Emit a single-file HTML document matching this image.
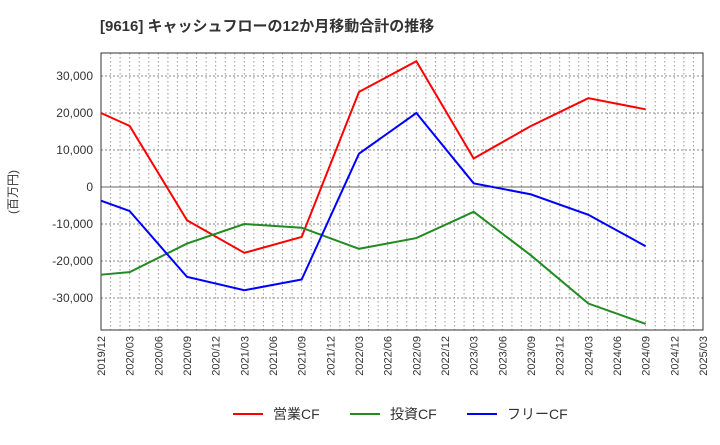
<!DOCTYPE html>
<html><head><meta charset="utf-8"><style>
body{margin:0;background:#fff;font-family:"Liberation Sans","Noto Sans CJK JP",sans-serif;}
</style></head><body>
<svg id="c" width="720" height="440" xmlns="http://www.w3.org/2000/svg">
<text x="100" y="31" font-size="15" font-weight="bold" fill="#333">[9616]  キャッシュフローの12か月移動合計の推移</text>
<text transform="translate(17,192) rotate(-90)" font-size="12" fill="#333" text-anchor="middle">(百万円)</text>
<g id="grid"></g><g id="axes"></g><g id="series"></g>
<g>
<line x1="233" y1="414" x2="263" y2="414" stroke="#f00" stroke-width="2"/><text x="273" y="419" font-size="14" fill="#333">営業CF</text>
<line x1="350" y1="414" x2="380" y2="414" stroke="#228b22" stroke-width="2"/><text x="390" y="419" font-size="14" fill="#333">投資CF</text>
<line x1="467" y1="414" x2="497" y2="414" stroke="#00f" stroke-width="2"/><text x="507" y="419" font-size="14" fill="#333">フリーCF</text>
</g>
</svg>
<script>
const xLabels=["2019/12","2020/03","2020/06","2020/09","2020/12","2021/03","2021/06","2021/09","2021/12","2022/03","2022/06","2022/09","2022/12","2023/03","2023/06","2023/09","2023/12","2024/03","2024/06","2024/09","2024/12","2025/03"];
const yTicks=[30000,20000,10000,0,-10000,-20000,-30000];
const pointIdx=[0,1,3,5,7,9,11,13,15,17,19];
const operatingCF=[20000,16500,-9000,-17800,-13500,25700,34000,7700,16500,24000,21000];
const investingCF=[-23700,-23000,-15300,-10000,-11000,-16700,-13800,-6700,-18500,-31500,-37000];
const freeCF=[-3700,-6500,-24300,-27900,-25000,9000,20000,1000,-2000,-7500,-16000];
const L=101,R=703,T=53,B=330;
const x=q=>L+q*(R-L)/(xLabels.length-1);
const y=v=>187-v*37/10000;
const ns="http://www.w3.org/2000/svg";
function mk(t,a,p){const e=document.createElementNS(ns,t);for(const k in a)e.setAttribute(k,a[k]);p.appendChild(e);return e;}
const g=document.getElementById('grid'),ax=document.getElementById('axes'),s=document.getElementById('series');
for(let m=1;m<63;m++){const xx=L+m*(R-L)/63;const l=mk('line',{x1:xx,x2:xx,y1:T,y2:B,stroke:'#999','stroke-dasharray':'1.5,2.5','stroke-width':1},g);

}
yTicks.forEach(v=>{const l=mk('line',{x1:L,x2:R,y1:y(v),y2:y(v),stroke:v===0?'#666':'#888','stroke-dasharray':v===0?'':'2,2','stroke-width':1},g);


const t=mk('text',{x:L-8,y:y(v)+4,'font-size':12,fill:'#333','text-anchor':'end'},ax);t.textContent=v.toLocaleString('en-US');

});
const fr=mk('rect',{x:L,y:T,width:R-L,height:B-T,fill:'none',stroke:'#333','stroke-width':1},ax);


xLabels.forEach((lb,i)=>{const t=mk('text',{transform:`translate(${x(i)+4},${B+6}) rotate(-90)`,'font-size':11,fill:'#333','text-anchor':'end'},ax);t.textContent=lb;

});
[[operatingCF,'#f00','operating-cf-line'],[investingCF,'#228b22','investing-cf-line'],[freeCF,'#00f','free-cf-line']].forEach(([d,c,n])=>{
const p=mk('polyline',{points:d.map((v,i)=>x(pointIdx[i])+','+y(v)).join(' '),fill:'none',stroke:c,'stroke-width':2},s);

});
</script>
</body></html>
